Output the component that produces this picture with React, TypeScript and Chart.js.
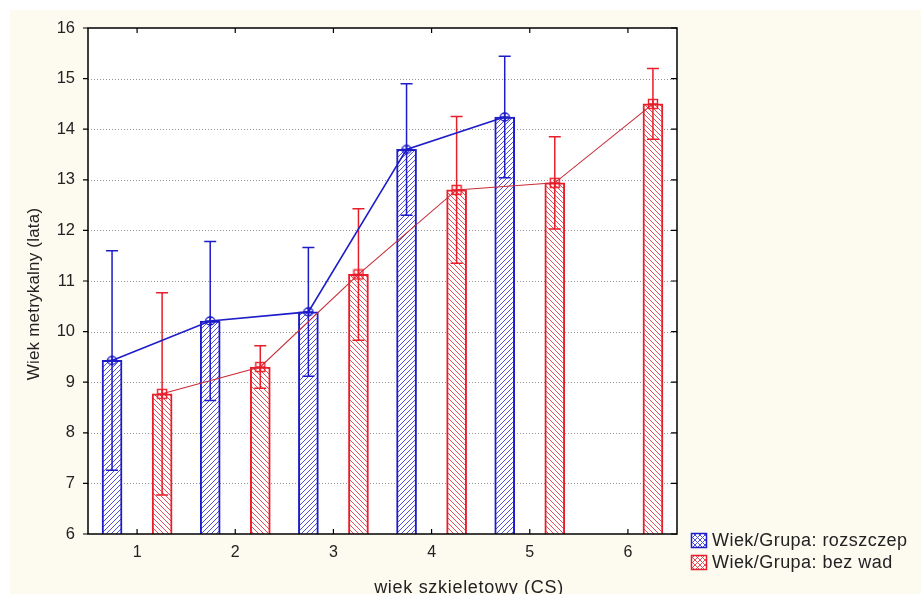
import React, { useEffect, useRef } from 'react';
import { Chart, registerables } from 'chart.js';

Chart.register(...registerables);

// ---------- data ----------
const categories = ['1', '2', '3', '4', '5', '6'];
const seriesLabels = ['Wiek/Grupa: rozszczep', 'Wiek/Grupa: bez wad'];
const rozszczepMeans = [9.43, 10.21, 10.39, 13.6, 14.24];
const rozszczepErr = [2.17, 1.57, 1.27, 1.3, 1.2];
const bezWadMeans = [8.77, 9.3, 11.13, 12.8, 12.94, 14.5];
const bezWadErr = [2.0, 0.42, 1.3, 1.45, 0.91, 0.7];
const yMin = 6;
const yMax = 16;
const xTitle = 'wiek szkieletowy (CS)';
const yTitle = 'Wiek metrykalny (lata)';

// ---------- style ----------
const FONT = '"Liberation Sans", Arial, Helvetica, sans-serif';
const CREAM = '#fdfaf0';
const BLUE = 'rgb(28,28,200)';
const BLUE_HATCH = 'rgb(80,80,218)';
const RED = 'rgb(232,30,42)';
const RED_HATCH = 'rgb(225,80,88)';
const RED_LINE = 'rgb(200,45,55)';
const TEXT = '#222';
const BAR_OFFSET = 0.255; // fraction of a category between tick and bar centre

function makeHatch(color: string, dir: 'up' | 'down', cross = false) {
  const p = 5;
  const c = document.createElement('canvas');
  c.width = p;
  c.height = p;
  const g = c.getContext('2d')!;
  g.fillStyle = '#fff';
  g.fillRect(0, 0, p, p);
  g.strokeStyle = color;
  g.lineWidth = 1;
  const drawDir = (d: 'up' | 'down') => {
    for (const x0 of [-p, 0, p]) {
      g.beginPath();
      if (d === 'up') {
        g.moveTo(x0, p);
        g.lineTo(x0 + p, 0);
      } else {
        g.moveTo(x0, 0);
        g.lineTo(x0 + p, p);
      }
      g.stroke();
    }
  };
  drawDir(dir);
  if (cross) drawDir(dir === 'up' ? 'down' : 'up');
  return g.createPattern(c, 'repeat')!;
}

function makeMarker(kind: 'circle' | 'square', color: string) {
  const s = 12;
  const c = document.createElement('canvas');
  c.width = s;
  c.height = s;
  const g = c.getContext('2d')!;
  g.strokeStyle = color;
  g.lineWidth = 1.4;
  if (kind === 'circle') {
    g.beginPath();
    g.ellipse(6, 6, 4.6, 4.0, 0, 0, Math.PI * 2);
    g.stroke();
  } else {
    g.strokeRect(1.5, 1.5, 9, 9);
  }
  g.beginPath();
  g.moveTo(1, 6);
  g.lineTo(11, 6);
  g.moveTo(6, 1);
  g.lineTo(6, 11);
  g.stroke();
  return c;
}

export default function App() {
  const ref = useRef<HTMLCanvasElement>(null);

  useEffect(() => {
    const canvas = ref.current!;
    const bluePattern = makeHatch(BLUE_HATCH, 'up');
    const redPattern = makeHatch(RED_HATCH, 'down');
    const blueLegendPattern = makeHatch(BLUE_HATCH, 'up', true);
    const redLegendPattern = makeHatch(RED_HATCH, 'down', true);
    const blueMarker = makeMarker('circle', BLUE);
    const redMarker = makeMarker('square', RED);

    const errors = [rozszczepErr, bezWadErr];
    const means = [rozszczepMeans, bezWadMeans];
    const errColors = [BLUE, RED];

    const decor = {
      id: 'decor',
      beforeDraw(chart: any) {
        const ctx = chart.ctx;
        const { width, height } = chart;
        const a = chart.chartArea;
        ctx.save();
        ctx.fillStyle = '#fff';
        ctx.fillRect(0, 0, width, height);
        ctx.fillStyle = CREAM;
        ctx.fillRect(10, 10, width - 10, height - 10);
        ctx.fillStyle = '#fff';
        ctx.fillRect(a.left, a.top, a.right - a.left, a.bottom - a.top);
        const ys = chart.scales.y;
        ctx.strokeStyle = 'rgba(130,130,130,0.85)';
        ctx.lineWidth = 1;
        ctx.setLineDash([1, 2]);
        for (let v = yMin + 1; v < yMax; v++) {
          const py = Math.round(ys.getPixelForValue(v)) + 0.5;
          ctx.beginPath();
          ctx.moveTo(a.left, py);
          ctx.lineTo(a.right, py);
          ctx.stroke();
        }
        ctx.restore();
      },
      afterDatasetDraw(chart: any, args: any) {
        const meta = args.meta;
        if (meta.type !== 'bar') return;
        const di = args.index; // 0 or 1 for bar datasets
        const ctx = chart.ctx;
        const ys = chart.scales.y;
        const m = means[di];
        const e = errors[di];
        ctx.save();
        ctx.strokeStyle = errColors[di];
        ctx.lineWidth = 1.5;
        meta.data.forEach((bar: any, i: number) => {
          if (m[i] == null) return;
          const x = bar.x;
          const yt = ys.getPixelForValue(m[i] + e[i]);
          const yb = ys.getPixelForValue(m[i] - e[i]);
          ctx.beginPath();
          ctx.moveTo(x, yt);
          ctx.lineTo(x, yb);
          ctx.moveTo(x - 6, yt);
          ctx.lineTo(x + 6, yt);
          ctx.moveTo(x - 6, yb);
          ctx.lineTo(x + 6, yb);
          ctx.stroke();
        });
        ctx.restore();
      },
      afterDraw(chart: any) {
        const ctx = chart.ctx;
        const a = chart.chartArea;
        const ys = chart.scales.y;
        const xs = chart.scales.x;
        ctx.save();
        // frame
        ctx.strokeStyle = '#000';
        ctx.lineWidth = 1.5;
        ctx.strokeRect(a.left, a.top, a.right - a.left, a.bottom - a.top);
        // ticks
        ctx.lineWidth = 1.2;
        ctx.beginPath();
        for (let v = yMin; v <= yMax; v++) {
          const py = ys.getPixelForValue(v);
          ctx.moveTo(a.left - 5, py);
          ctx.lineTo(a.left, py);
          ctx.moveTo(a.right - 6, py);
          ctx.lineTo(a.right, py);
        }
        categories.forEach((_, i) => {
          const px = xs.getPixelForValue(i);
          ctx.moveTo(px, a.top);
          ctx.lineTo(px, a.top + 5);
          ctx.moveTo(px, a.bottom - 5);
          ctx.lineTo(px, a.bottom);
        });
        ctx.stroke();

        // axis titles
        ctx.fillStyle = TEXT;
        ctx.font = `17px ${FONT}`;
        (ctx as any).letterSpacing = '0.2px';
        ctx.textAlign = 'center';
        ctx.textBaseline = 'middle';
        ctx.save();
        ctx.translate(34, 294);
        ctx.rotate(-Math.PI / 2);
        ctx.fillText(yTitle, 0, 0);
        ctx.restore();

        ctx.font = `18px ${FONT}`;
        (ctx as any).letterSpacing = '0.7px';
        ctx.textBaseline = 'alphabetic';
        ctx.fillText(xTitle, 469, 593);

        // legend
        const pats = [blueLegendPattern, redLegendPattern];
        const cols = [BLUE, RED];
        const tops = [533, 555];
        ctx.textAlign = 'left';
        ctx.font = `18px ${FONT}`;
        (ctx as any).letterSpacing = '0.45px';
        seriesLabels.forEach((lab, i) => {
          ctx.fillStyle = pats[i];
          ctx.fillRect(691, tops[i], 16, 15);
          ctx.strokeStyle = cols[i];
          ctx.lineWidth = 1.5;
          ctx.strokeRect(691.5, tops[i] + 0.5, 15, 14);
          ctx.fillStyle = TEXT;
          ctx.fillText(lab, 712, tops[i] + 13);
        });
        (ctx as any).letterSpacing = '0px';
        ctx.restore();
      },
    };

    const blueX = rozszczepMeans.map((_, i) => i + 1 - BAR_OFFSET);
    const redX = bezWadMeans.map((_, i) => i + 1 + BAR_OFFSET);

    const chart = new Chart(canvas, {
      type: 'bar',
      data: {
        labels: categories,
        datasets: [
          {
            type: 'bar',
            label: seriesLabels[0],
            data: rozszczepMeans.map((v, i) => ({ x: blueX[i], y: v })),
            backgroundColor: bluePattern,
            borderColor: BLUE,
            borderWidth: 2,
            borderSkipped: false,
            barThickness: 20,
            grouped: false,
            xAxisID: 'xl',
            yAxisID: 'y',
            order: 2,
          },
          {
            type: 'bar',
            label: seriesLabels[1],
            data: bezWadMeans.map((v, i) => ({ x: redX[i], y: v })),
            backgroundColor: redPattern,
            borderColor: RED,
            borderWidth: 2,
            borderSkipped: false,
            barThickness: 20,
            grouped: false,
            xAxisID: 'xl',
            yAxisID: 'y',
            order: 2,
          },
          {
            type: 'line',
            label: seriesLabels[0] + ' (linia)',
            data: rozszczepMeans.map((v, i) => ({ x: blueX[i], y: v })),
            borderColor: BLUE,
            borderWidth: 1.6,
            pointStyle: blueMarker,
            pointRadius: 5,
            fill: false,
            tension: 0,
            xAxisID: 'xl',
            yAxisID: 'y',
            order: 1,
          },
          {
            type: 'line',
            label: seriesLabels[1] + ' (linia)',
            data: bezWadMeans.map((v, i) => ({ x: redX[i], y: v })),
            borderColor: RED_LINE,
            borderWidth: 1.1,
            pointStyle: redMarker,
            pointRadius: 5,
            fill: false,
            tension: 0,
            xAxisID: 'xl',
            yAxisID: 'y',
            order: 1,
          },
        ] as any,
      },
      options: {
        responsive: false,
        maintainAspectRatio: false,
        devicePixelRatio: 1,
        animation: false,
        layout: { padding: { left: 0, top: 28, right: 244, bottom: 0 } },
        plugins: {
          legend: { display: false },
          tooltip: { enabled: false },
        },
        scales: {
          x: {
            type: 'category',
            labels: categories,
            offset: true,
            grid: { display: false, drawTicks: false },
            border: { display: false },
            ticks: {
              color: TEXT,
              font: { family: FONT, size: 16 },
              padding: 9,
              maxRotation: 0,
              autoSkip: false,
            },
            afterFit: (s: any) => {
              s.height = 60;
            },
          },
          xl: {
            type: 'linear',
            display: false,
            offset: false,
            grid: { offset: false },
            min: 0.5,
            max: 6.5,
          },
          y: {
            type: 'linear',
            min: yMin,
            max: yMax,
            beginAtZero: false,
            grid: { display: false, drawTicks: false },
            border: { display: false },
            ticks: {
              stepSize: 1,
              color: TEXT,
              font: { family: FONT, size: 16.5 },
              padding: 13,
            },
            afterFit: (s: any) => {
              s.width = 88;
            },
          },
        },
      } as any,
      plugins: [decor],
    });

    return () => chart.destroy();
  }, []);

  return (
    <div style={{ position: 'fixed', left: 0, top: 0, width: 921, height: 594, background: '#fff' }}>
      <canvas ref={ref} width={921} height={594} style={{ display: 'block', width: 921, height: 594 }} />
    </div>
  );
}
